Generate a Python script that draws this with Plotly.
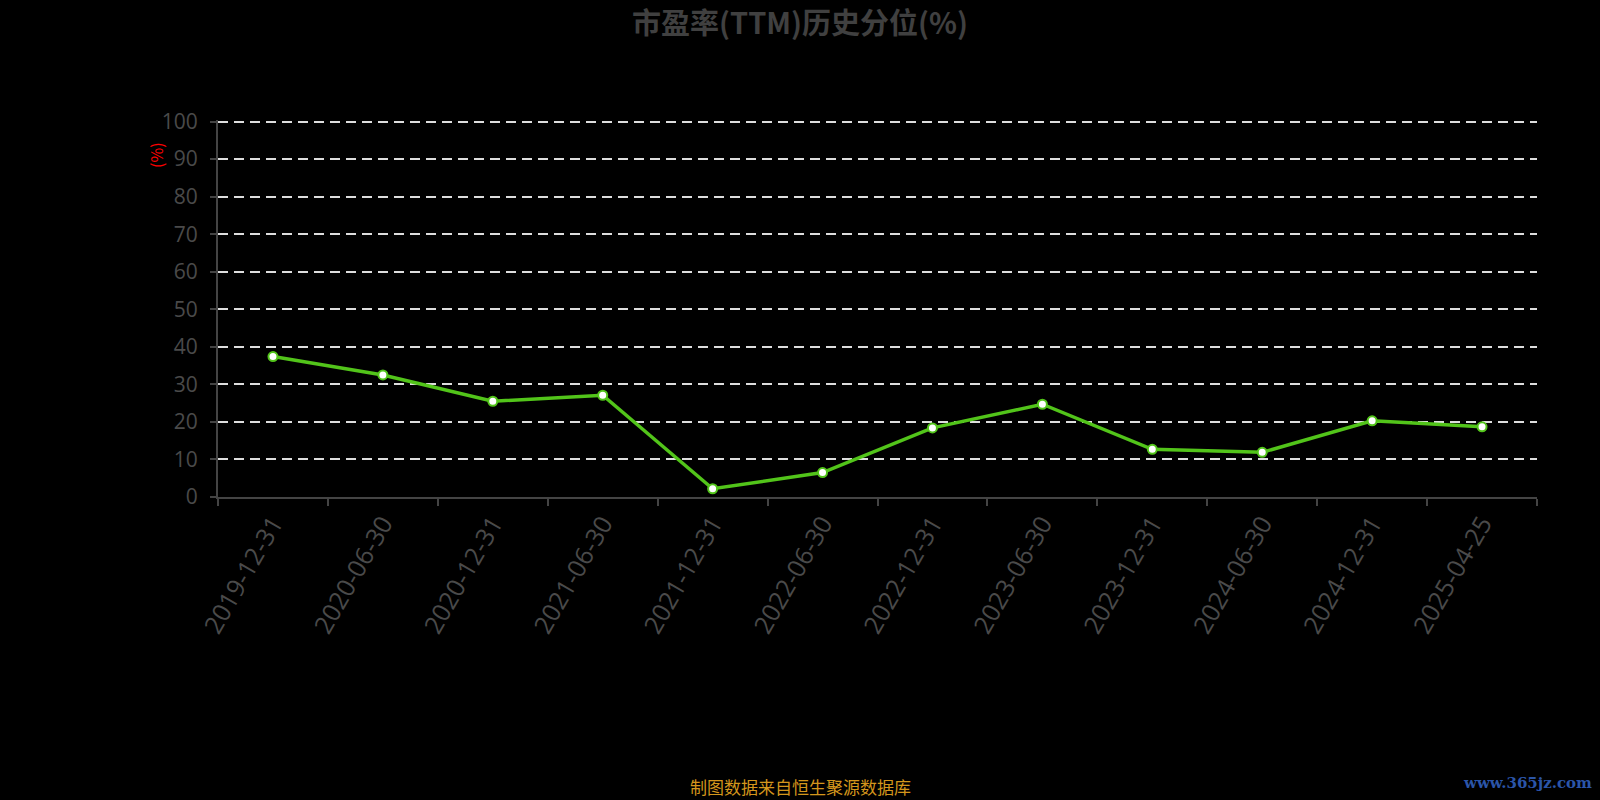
import plotly.graph_objects as go

dates = ["2019-12-31", "2020-06-30", "2020-12-31", "2021-06-30", "2021-12-31", "2022-06-30",
         "2022-12-31", "2023-06-30", "2023-12-31", "2024-06-30", "2024-12-31", "2025-04-25"]
pe_percentile = [37.4, 32.5, 25.5, 27.1, 2.2, 6.5, 18.4, 24.7, 12.7, 11.9, 20.3, 18.7]
y_ticks = list(range(0, 101, 10))

title_text = "市盈率(TTM)历史分位(%)"
footer_text = "制图数据来自恒生聚源数据库"
watermark_text = "www.365jz.com"

fig = go.Figure()
fig.add_trace(go.Scatter(
    x=dates, y=pe_percentile, mode="lines+markers",
    line=dict(color="#52c41a", width=3.5),
    marker=dict(size=9, color="#ffffff", line=dict(color="#52c41a", width=2)),
    showlegend=False,
))

x_font = dict(family="Open Sans, Noto Sans, sans-serif", size=25, color="#4a4a4a")
y_font = dict(family="Open Sans, Noto Sans, sans-serif", size=21, color="#4a4a4a")

L, R, T, B = 218, 63, 120, 303
pw, ph = 1600 - L - R, 800 - T - B


def px(x):
    return (x - L) / pw


def py(y):
    return (800 - B - y) / ph


fig.update_layout(
    width=1600, height=800,
    paper_bgcolor="#000000", plot_bgcolor="#000000",
    margin=dict(l=L, r=R, t=T, b=B, autoexpand=False),
    title=dict(text="<b>" + title_text + "</b>", x=0.5, xanchor="center", y=1 - 24 / 800, yanchor="middle",
               font=dict(family="Noto Sans CJK SC, sans-serif", size=29, color="#404040")),
    xaxis=dict(
        type="category", categoryorder="array", categoryarray=dates,
        range=[-0.5, len(dates) - 0.5],
        showline=True, linecolor="#444444", linewidth=2,
        ticks="outside", tickson="boundaries", ticklen=7, tickcolor="#444444", tickwidth=2,
        tickangle=-60, tickfont=x_font, showgrid=False, zeroline=False,
    ),
    yaxis=dict(
        range=[0, 100.4], tickvals=y_ticks, ticktext=[str(v) for v in y_ticks],
        showline=True, linecolor="#444444", linewidth=2,
        ticks="outside", ticklen=6, tickcolor="#444444", tickwidth=2,
        tickfont=y_font, ticklabelstandoff=8,
        showgrid=True, gridcolor="#dddddd", gridwidth=1.5, griddash="10px,6px",
        zeroline=False,
    ),
    annotations=[
        dict(text="(%)", xref="paper", yref="paper", x=px(156), y=py(155),
             xanchor="center", yanchor="middle", textangle=-90,
             showarrow=False, font=dict(family="Noto Sans CJK SC, sans-serif", size=16, color="#ff0000")),
        dict(text=footer_text, xref="paper", yref="paper", x=px(800), y=py(786),
             xanchor="center", yanchor="middle", showarrow=False,
             font=dict(family="Noto Sans CJK SC, sans-serif", size=17, color="#d4961c")),
        dict(text="<b>" + watermark_text + "</b>", xref="paper", yref="paper",
             x=px(1594), y=py(783), xanchor="right", yanchor="middle", showarrow=False,
             font=dict(family="DejaVu Serif, serif", size=15, color="#2b55a8")),
    ],
)

fig.write_html("out.html", config={"displayModeBar": False},
               post_script="document.body.style.margin='0';document.body.style.background='#000';")
